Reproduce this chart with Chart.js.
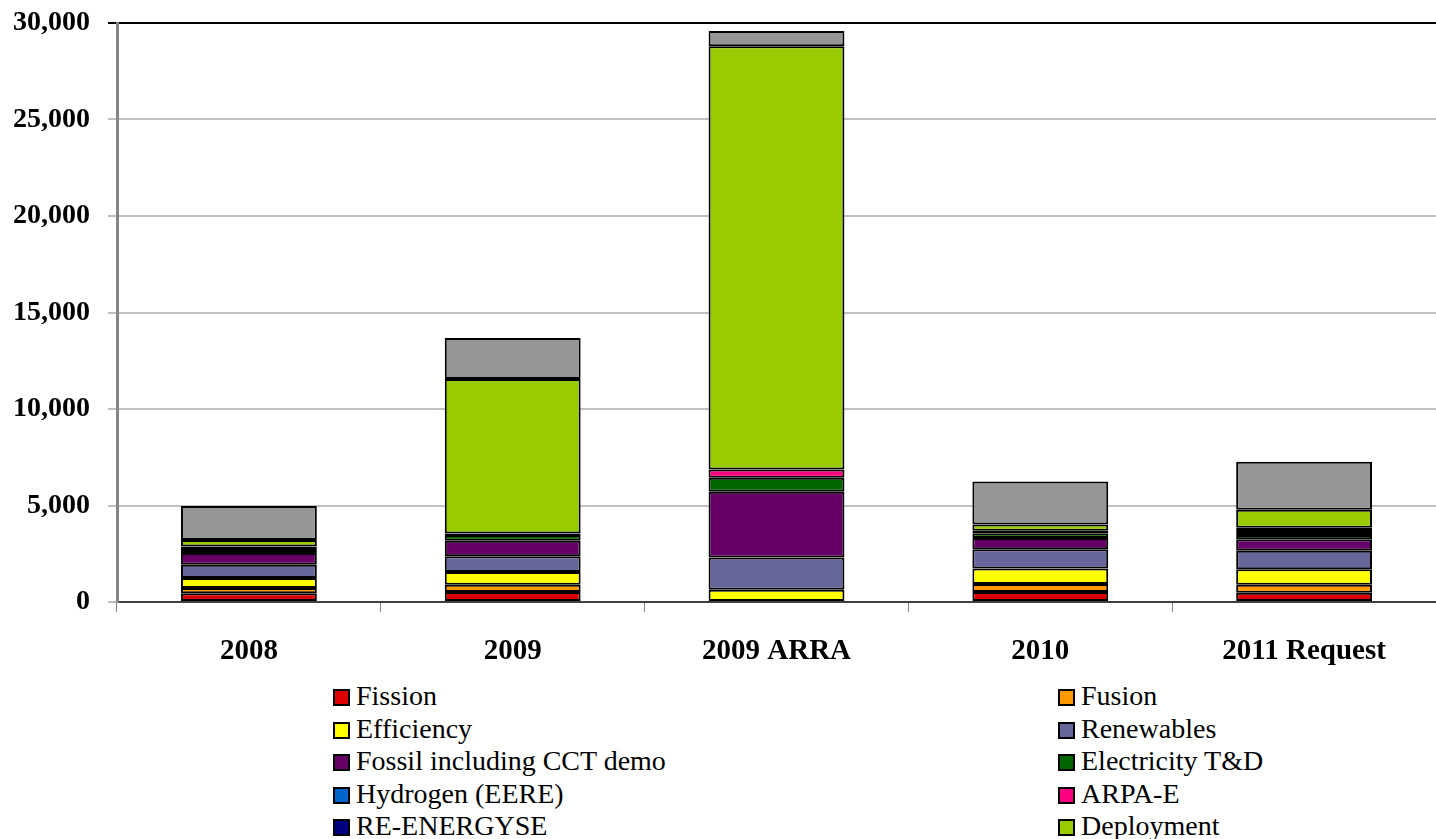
<!DOCTYPE html>
<html>
<head>
<meta charset="utf-8">
<script src="https://cdn.jsdelivr.net/npm/chart.js@4"></script>
<style>
  body { margin: 0; background: #fff; }
  #wrap { position: relative; width: 1436px; height: 680px; }
  #legend { position: absolute; top: 680px; left: 0; width: 1436px; font-family: "Liberation Serif", serif; font-size: 28px; color: #000; }
  .item { position: absolute; height: 32.5px; line-height: 32.5px; white-space: nowrap; }
  .box { display: inline-block; width: 13px; height: 13px; border: 2px solid #000; margin-right: 6px; vertical-align: -1px; }
</style>
</head>
<body>
<div id="wrap"><canvas id="chart"></canvas></div>
<div id="legend"></div>
<script>
// funding by year
const years = ["2008", "2009", "2009 ARRA", "2010", "2011 Request"];

const fission      = [450, 520, 0, 518, 482];
const fusion       = [275, 380, 0, 414, 414];
const efficiency   = [518, 655, 640, 798, 798];
const renewables   = [690, 810, 1670, 1000, 963];
const fossil       = [606, 810, 3400, 586, 591];
const electricity  = [210, 300, 726, 244, 220];
const hydrogen     = [130, 80, 0, 130, 106];
const arpaE        = [0, 0, 435, 0, 207];
const reEnergyse   = [0, 0, 0, 0, 60];
const deployment   = [330, 8000, 21930, 320, 940];
const other        = [1770, 2120, 780, 2240, 2490];

const yTicks = [0, 5000, 10000, 15000, 20000, 25000, 30000];

const series = [
  ["Fission", fission, "#dd0000"],
  ["Fusion", fusion, "#ff9900"],
  ["Efficiency", efficiency, "#ffff00"],
  ["Renewables", renewables, "#666699"],
  ["Fossil including CCT demo", fossil, "#660066"],
  ["Electricity T&D", electricity, "#006600"],
  ["Hydrogen (EERE)", hydrogen, "#0066cc"],
  ["ARPA-E", arpaE, "#ff0080"],
  ["RE-ENERGYSE", reEnergyse, "#000080"],
  ["Deployment", deployment, "#99cc00"],
  ["Other", other, "#969696"]
];

const canvas = document.getElementById("chart");
canvas.width = 1436;
canvas.height = 680;

new Chart(canvas.getContext("2d"), {
  type: "bar",
  data: {
    labels: years,
    datasets: series.map(s => ({
      label: s[0],
      // empty segments are skipped so they don't leave an extra border
      data: s[1].map(v => v === 0 ? null : v),
      backgroundColor: s[2],
      borderColor: "#000",
      borderWidth: 2,
      borderSkipped: false,
      barPercentage: 0.515,
      categoryPercentage: 1
    }))
  },
  options: {
    responsive: false,
    animation: false,
    layout: { padding: { top: 23, right: 0, bottom: 0, left: 0 } },
    plugins: { legend: { display: false }, tooltip: { enabled: false } },
    scales: {
      x: {
        stacked: true,
        afterFit: s => { s.height = 78; s.paddingLeft = 0; s.paddingRight = 0; },
        grid: { offset: true, drawOnChartArea: false, drawTicks: true, tickLength: 10, color: "#808080", lineWidth: 1 },
        border: { color: "#404040", width: 2 },
        ticks: { padding: 22, color: "#000", font: { family: "Liberation Serif", size: 29, weight: "bold" } }
      },
      y: {
        stacked: true,
        min: 0,
        max: 30000,
        afterFit: s => { s.width = 117; s.paddingTop = 0; s.paddingBottom = 0; },
        afterBuildTicks: s => { s.ticks = yTicks.map(v => ({ value: v })); },
        grid: {
          tickLength: 9,
          lineWidth: 2,
          color: c => (c.tick && c.tick.value === 30000) ? "#000" : "#c0c0c0"
        },
        border: { color: "#858585", width: 3 },
        ticks: {
          padding: 18,
          color: "#000",
          font: { family: "Liberation Serif", size: 28, weight: "bold" },
          callback: v => v.toLocaleString("en-US")
        }
      }
    }
  }
});

// two-column legend, gray series not listed
const legend = document.getElementById("legend");
series.slice(0, 10).forEach((s, i) => {
  const d = document.createElement("div");
  d.className = "item";
  d.style.left = (i % 2 === 0 ? 333 : 1058) + "px";
  d.style.top = (Math.floor(i / 2) * 32.5) + "px";
  d.innerHTML = '<span class="box" style="background:' + s[2] + '"></span>';
  d.appendChild(document.createTextNode(s[0]));
  legend.appendChild(d);
});
</script>
</body>
</html>
